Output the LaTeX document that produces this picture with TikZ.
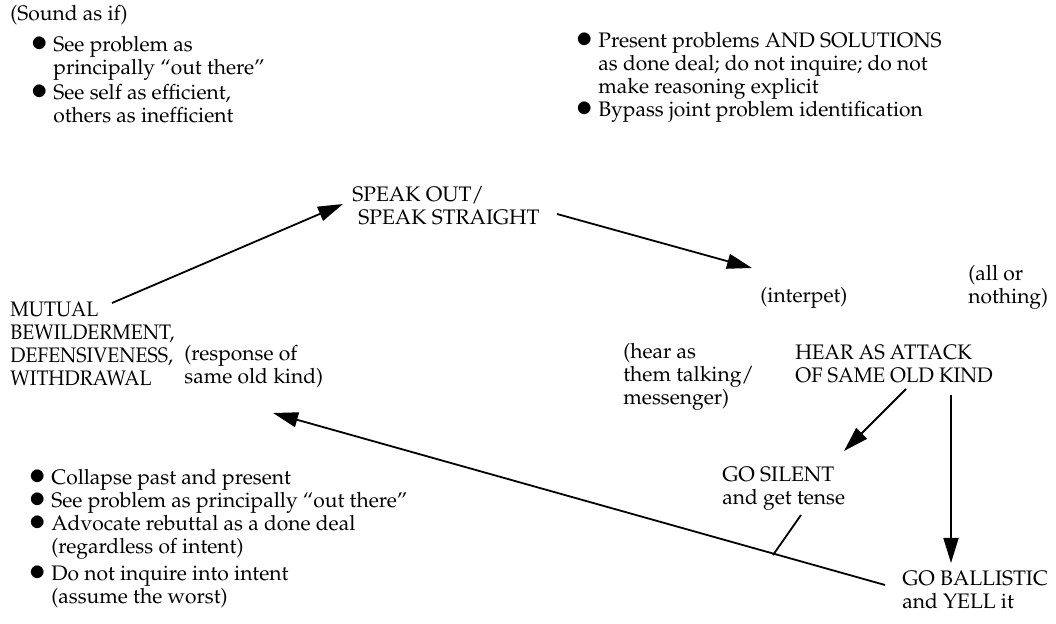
\documentclass[tikz,border=0pt]{standalone}
\usepackage[T1]{fontenc}
\usepackage{mathpazo}
\usetikzlibrary{arrows.meta}
\newcommand{\bul}{\makebox[11pt][l]{\smash{\raisebox{0.02ex}{\scalebox{1.5}{$\bullet$}}}}}
\begin{document}
\begin{tikzpicture}[x=0.5pt,y=-0.5pt,
  txt/.style={inner sep=0pt, anchor=base west, font=\fontsize{10.5}{11.5}\selectfont},
  arr/.style={line width=0.9pt, -{Triangle[length=12.5pt,width=7.5pt]}},
  ln/.style={line width=0.9pt}]
\useasboundingbox (0,0) rectangle (1056,624);

% top-left
\node[txt] (sound) at (10,21) {(Sound as if)};
\node[txt] (tl) at (31,52) {\begin{tabular}[t]{@{}l@{}l@{}}
\bul & See problem as\\
 & principally ``out there''\\[1pt]
\bul & See self as efficient,\\
 & others as inefficient
\end{tabular}};

% top-right
\node[txt] (tr) at (576,48) {\begin{tabular}[t]{@{}l@{}l@{}}
\bul & Present problems AND SOLUTIONS\\
 & as done deal; do not inquire; do not\\
 & make reasoning explicit\\
\bul & Bypass joint problem identification
\end{tabular}};

% main nodes
\node[txt] (speak) at (352,202) {\begin{tabular}[t]{@{}l@{}}
SPEAK OUT/\\
\hspace{3pt}SPEAK STRAIGHT
\end{tabular}};

\node[txt] (mutual) at (10,317) {\scalebox{0.93}[1]{\begin{tabular}[t]{@{}l@{}}
MUTUAL\\ BEWILDERMENT,\\ DEFENSIVENESS,\\ WITHDRAWAL
\end{tabular}}};

\node[txt] (resp) at (184,361) {\begin{tabular}[t]{@{}l@{}}
(response of\\ same old kind)
\end{tabular}};

\node[txt] (interp) at (760,303) {(interpet)};

\node[txt] (allor) at (968,281) {\begin{tabular}[t]{@{}l@{}}
(all or\\ nothing)
\end{tabular}};

\node[txt] (hearas) at (623,359) {\begin{tabular}[t]{@{}l@{}}
(hear as\\ them talking/\\ messenger)
\end{tabular}};

\node[txt] (attack) at (795,360) {\scalebox{0.96}[1]{\begin{tabular}[t]{@{}l@{}}
HEAR AS ATTACK\\ OF SAME OLD KIND
\end{tabular}}};

\node[txt] (silent) at (722,482) {\begin{tabular}[t]{@{}l@{}}
GO SILENT\\ and get tense
\end{tabular}};

\node[txt] (ballistic) at (902,586) {\begin{tabular}[t]{@{}l@{}}
GO BALLISTIC\\ and YELL it
\end{tabular}};

% bottom-left
\node[txt] (bl) at (29,485) {\begin{tabular}[t]{@{}l@{}l@{}}
\bul & Collapse past and present\\
\bul & See problem as principally ``out there''\\
\bul & Advocate rebuttal as a done deal\\
 & (regardless of intent)\\[2pt]
\bul & Do not inquire into intent\\
 & (assume the worst)
\end{tabular}};

% connector end points
\coordinate (mutualE) at (112,303);
\coordinate (speakW) at (343,204);
\coordinate (speakE) at (557,214);
\coordinate (interpNW) at (752,268);
\coordinate (attackS1) at (906,389);
\coordinate (silentNE) at (844,451);
\coordinate (attackS2) at (951,395);
\coordinate (ballisticN) at (951,563);
\coordinate (ballisticW) at (885,585);
\coordinate (respN) at (273,413);
\coordinate (silentS) at (801,515);
\coordinate (joint) at (773,555);

\draw[arr] (mutualE) -- (speakW);
\draw[arr] (speakE) -- (interpNW);
\draw[arr] (attackS1) -- (silentNE);
\draw[arr] (attackS2) -- (ballisticN);
\draw[arr] (ballisticW) -- (respN);
\draw[ln] (silentS) -- (joint);
\end{tikzpicture}
\end{document}
